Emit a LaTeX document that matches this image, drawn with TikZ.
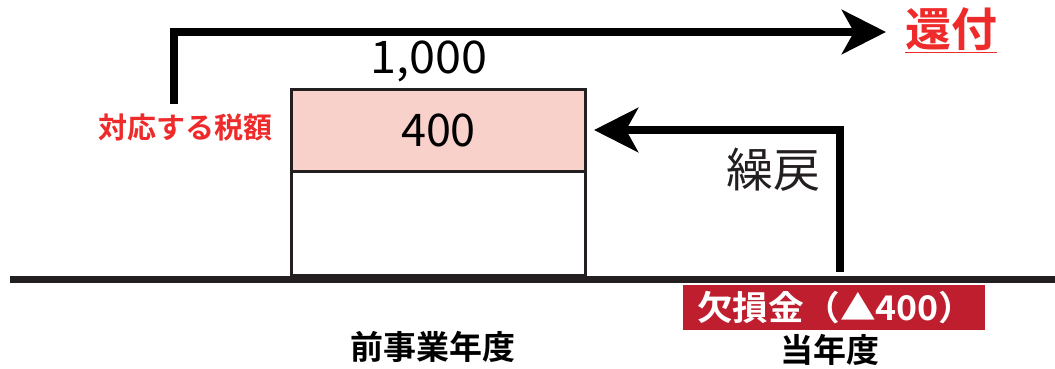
\documentclass[tikz,border=0pt]{standalone}
\usepackage{fontspec}
\setmainfont{Noto Sans CJK JP}
\newfontfamily\jpb{Noto Sans CJK JP Bold}
\usetikzlibrary{arrows.meta}
\definecolor{lred}{HTML}{EE2A2A}
\definecolor{dred}{HTML}{BE1E2D}
\definecolor{pinkf}{HTML}{F9D1CB}
\definecolor{dgray}{HTML}{231F20}
\begin{document}
\begin{tikzpicture}[x=1pt,y=-1pt,
  bigarrow/.style={line width=8pt,-{Stealth[length=44pt,width=44pt,inset=12pt]}},
  boxst/.style={draw=dgray,line width=3pt,minimum width=294pt,inner sep=0pt,anchor=north west},
  numtxt/.style={font=\fontsize{45}{45}\selectfont,text=black,inner sep=0pt}]
\useasboundingbox (0,0) rectangle (1055,368);
% ground line
\coordinate (g0) at (10,279.5);
\coordinate (g1) at (1055,279.5);
\draw[line width=7.5pt,draw=dgray] (g0) -- (g1);
% boxes
\node[boxst,fill=white,minimum height=104pt] (low) at (290,170) {};
\node[boxst,fill=pinkf,minimum height=82pt] (up) at (290,88) {};
\node[numtxt] (v400) at (up.center) {400};
\node[numtxt] (v1000) at (429,61) {\scalebox{1.04}[1]{1,000}};
% labels
\node[font=\jpb\fontsize{29}{29}\selectfont,text=lred,anchor=east,inner sep=0pt] (tax) at (273,127) {対応する税額};
\node[font=\jpb\fontsize{46}{46}\selectfont,text=lred,inner sep=0pt] (kanpu) at (951,30) {\underline{還付}};
\node[font=\fontsize{47}{47}\selectfont,text=dgray,inner sep=0pt] (kuri) at (773,170) {繰戻};
\node[fill=dred,minimum width=302pt,minimum height=45pt,inner sep=0pt,anchor=north west] (loss) at (683,285) {};
\node[text=white,font=\jpb\fontsize{34}{34}\selectfont,inner sep=0pt,anchor=west] (losst) at (697,308) {\scalebox{1.05}[1]{欠損金（▲400）}};
\node[font=\jpb\fontsize{33}{33}\selectfont,inner sep=0pt] (prev) at (433,347) {前事業年度};
\node[font=\jpb\fontsize{33}{33}\selectfont,inner sep=0pt] (cur) at (830,350) {当年度};
% arrows
\coordinate (a0) at (174,104);
\coordinate (a1) at (174,32);
\coordinate (a2) at (886,32);
\draw[bigarrow] (a0) -- (a1) -- (a2);
\coordinate (b0) at (840,272);
\coordinate (b1) at (840,130);
\coordinate (b2) at (594,130);
\draw[bigarrow] (b0) -- (b1) -- (b2);
\end{tikzpicture}
\end{document}
